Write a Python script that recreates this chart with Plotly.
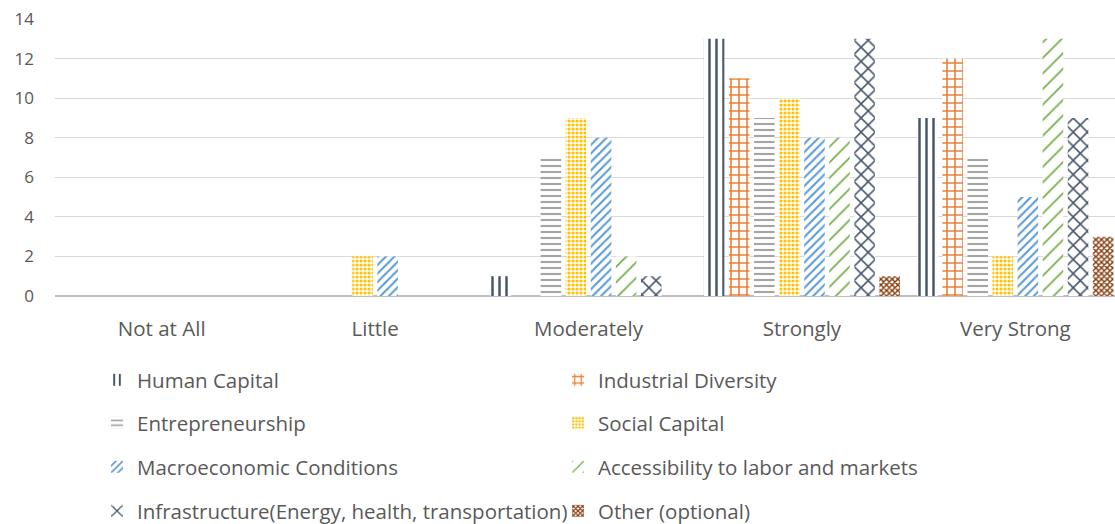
import plotly.graph_objects as go

categories = ["Not at All", "Little", "Moderately", "Strongly", "Very Strong"]
series_names = [
    "Human Capital",
    "Industrial Diversity",
    "Entrepreneurship",
    "Social Capital",
    "Macroeconomic Conditions",
    "Accessibility to labor and markets",
    "Infrastructure(Energy, health, transportation)",
    "Other (optional)",
]
human_capital = [0, 0, 1, 13, 9]
industrial_diversity = [0, 0, 0, 11, 12]
entrepreneurship = [0, 0, 7, 9, 7]
social_capital = [0, 2, 9, 10, 2]
macroeconomic = [0, 2, 8, 8, 5]
accessibility = [0, 0, 2, 8, 13]
infrastructure = [0, 0, 1, 13, 9]
other = [0, 0, 0, 1, 3]
values = [human_capital, industrial_diversity, entrepreneurship, social_capital,
          macroeconomic, accessibility, infrastructure, other]

colors = ["#44546A", "#ED7D31", "#A5A5A5", "#FFC000", "#5B9BD5", "#70AD47", "#44546A", "#843C0C"]
patterns = [
    dict(shape="|", size=7, solidity=0.35),
    dict(shape="+", size=8, solidity=0.35),
    dict(shape="-", size=6, solidity=0.35),
    dict(shape=".", size=4, solidity=0.5),
    dict(shape="/", size=6, solidity=0.35),
    dict(shape="/", size=11, solidity=0.15),
    dict(shape="x", size=10, solidity=0.28),
    dict(shape="x", size=4, solidity=0.6),
]
legends = ["legend", "legend", "legend2", "legend2", "legend3", "legend3", "legend4", "legend4"]

fig = go.Figure()
for name, vals, col, pat, lg in zip(series_names, values, colors, patterns, legends):
    fig.add_trace(go.Bar(
        x=categories, y=vals, name=name, legend=lg,
        marker=dict(color="white", line=dict(width=0),
                    pattern=dict(shape=pat["shape"], size=pat["size"], solidity=pat["solidity"],
                                 fgcolor=col, bgcolor="white", fillmode="replace")),
    ))

W, H = 1115, 524
L, T, B = 55, 19, 228
def ycont(px):
    return (H - px) / H
def xcont(px):
    return px / W

font_family = "'Open Sans', Lato, sans-serif"
legend_common = dict(orientation="h", xref="container", yref="container",
                     x=xcont(97), xanchor="left", yanchor="middle",
                     entrywidth=416, font=dict(size=20.5, color="#595959", family=font_family),
                     bgcolor="rgba(0,0,0,0)")
fig.update_layout(
    width=W, height=H,
    margin=dict(l=L, r=0, t=T, b=B, autoexpand=False),
    plot_bgcolor="white", paper_bgcolor="white",
    barmode="group", bargap=0.06, bargroupgap=0.18,
    font=dict(family=font_family, color="#595959"),
    legend=dict(y=ycont(380), **legend_common),
    legend2=dict(y=ycont(423), **legend_common),
    legend3=dict(y=ycont(467), **legend_common),
    legend4=dict(y=ycont(511), **legend_common),
    xaxis=dict(range=[-0.5, 4.467], showgrid=False, showline=False, ticks="", automargin=False,
               tickfont=dict(size=20.5, color="#595959"), ticklabelstandoff=18),
    yaxis=dict(range=[0, 14], dtick=2, showgrid=True, gridcolor="#D9D9D9", gridwidth=1,
               zeroline=True, zerolinecolor="#BFBFBF", zerolinewidth=1.5, showline=False,
               automargin=False,
               tickfont=dict(size=17, color="#595959"), ticklabelstandoff=20),
)
fig.write_html("out.html")
